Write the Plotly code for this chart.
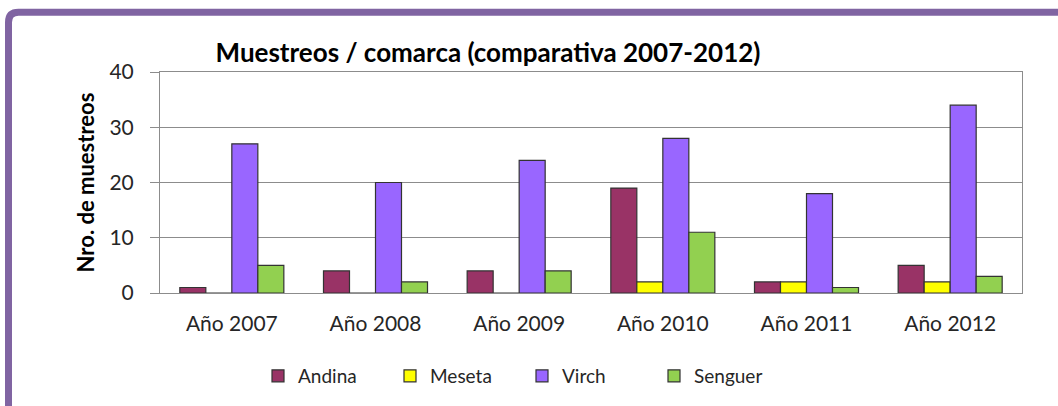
import plotly.graph_objects as go

years = ["Año 2007", "Año 2008", "Año 2009", "Año 2010", "Año 2011", "Año 2012"]
andina = [1, 4, 4, 19, 2, 5]
meseta = [0, 0, 0, 2, 2, 2]
virch = [27, 20, 24, 28, 18, 34]
senguer = [5, 2, 4, 11, 1, 3]

series = [
    ("Andina", andina, "#993366"),
    ("Meseta", meseta, "#FFFF00"),
    ("Virch", virch, "#9966FF"),
    ("Senguer", senguer, "#92D050"),
]

FONT = "Lato, Carlito, 'Open Sans', sans-serif"

fig = go.Figure()
for name, vals, color in series:
    fig.add_trace(go.Bar(
        x=years, y=vals, name=name,
        marker=dict(color=color, line=dict(color="#333333", width=1.2)),
    ))

# plot area 160..1022 x 72..294 px
W, H = 1058, 406
L, R, T, B = 160, 36, 72, 112
pw, ph = W - L - R, H - T - B


def px(x):
    return (x - L) / pw


def py(y):
    return (H - B - y) / ph


# purple frame (left and top edge, rounded corner)
x0, y0, rad = 8.5, 12, 10
frame = "M {} {} L {} {} Q {} {} {} {} L {} {}".format(
    px(x0), py(H + 10), px(x0), py(y0 + rad), px(x0), py(y0),
    px(x0 + rad), py(y0), px(W + 10), py(y0))

fig.update_layout(
    width=W, height=H,
    margin=dict(l=L, r=R, t=T, b=B),
    paper_bgcolor="white", plot_bgcolor="white",
    font=dict(family=FONT, size=21, color="#262626"),
    title=dict(
        text="<b>Muestreos / comarca (comparativa 2007-2012)</b>",
        x=px(488), xref="paper", xanchor="center",
        y=1 - 53 / H, yanchor="middle",
        font=dict(size=26, color="black"),
    ),
    barmode="group", bargap=0.276, bargroupgap=0,
    xaxis=dict(
        showline=True, linecolor="#8c8c8c", linewidth=1, mirror=True,
        ticks="", showgrid=False, tickfont=dict(size=21),
        ticklabelstandoff=12,
    ),
    yaxis=dict(
        range=[0, 40], tickvals=[0, 10, 20, 30, 40],
        showline=True, linecolor="#8c8c8c", linewidth=1, mirror=True,
        showgrid=True, gridcolor="#8c8c8c", gridwidth=1,
        ticks="outside", ticklen=9, tickcolor="#8c8c8c",
        tickfont=dict(size=21), ticklabelstandoff=12,
        title=dict(text="<b>Nro. de muestreos</b>", font=dict(size=22, color="black"), standoff=8),
        zeroline=False,
    ),
    legend=dict(
        orientation="h", x=px(258), xanchor="left", y=py(376), yanchor="middle",
        entrywidth=87, font=dict(size=19), traceorder="normal",
    ),
    shapes=[dict(
        type="path", path=frame, xref="paper", yref="paper",
        line=dict(color="#8064A2", width=7), layer="above",
    )],
)

fig.write_html("out.html", config={"displayModeBar": False},
               post_script="document.body.style.margin='0';")
